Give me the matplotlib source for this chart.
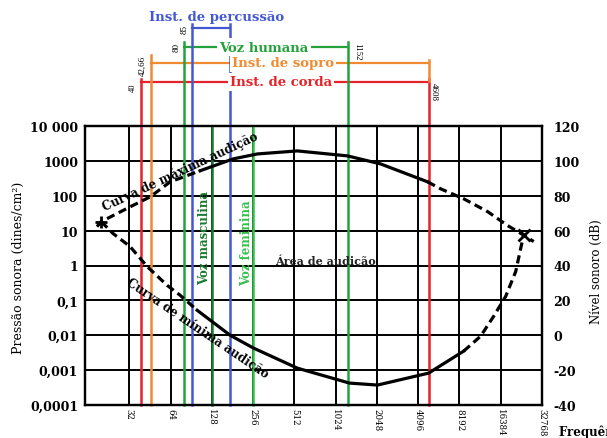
import matplotlib
matplotlib.use('Agg')
import matplotlib.pyplot as plt

plt.rcParams['font.family'] = ['DejaVu Serif', 'Liberation Serif']

# curves (frequency in Hz, pressure in dines/cm2)
max_dash1_f = [18.6, 19.9, 32.4, 45.4, 63.5, 105]
max_dash1_p = [13, 18, 48, 93, 250, 520]
max_solid_f = [105, 183, 275, 538, 1248, 2174, 4794]
max_solid_p = [520, 1140, 1580, 1930, 1390, 820, 251]
max_dash2_f = [4794, 5968, 8786, 13150, 18420, 23700, 28530]
max_dash2_p = [251, 158, 82, 35, 13.9, 7.7, 4.85]

min_dash1_f = [20, 24.4, 32.4, 43.1, 60.4, 75.2, 100]
min_dash1_p = [18, 8.2, 3.5, 0.94, 0.27, 0.14, 0.052]
min_solid_f = [100, 174, 257, 538, 1291, 2067, 4875, 8786]
min_solid_p = [0.052, 0.01, 0.0043, 0.00114, 0.000425, 0.000373, 0.00082, 0.0035]
min_dash2_f = [8786, 11690, 14550, 17800, 21070, 22920, 24100]
min_dash2_p = [0.0035, 0.0094, 0.035, 0.13, 0.67, 3.1, 7.7]

x_ticks = [32, 64, 128, 256, 512, 1024, 2048, 4096, 8192, 16384, 32768]
y_ticks = [1e-4, 1e-3, 1e-2, 1e-1, 1, 10, 100, 1000, 10000]
y_labels = ['0,0001', '0,001', '0,01', '0,1', '1', '10', '100', '1000', '10 000']
db_ticks = [-40, -20, 0, 20, 40, 60, 80, 100, 120]

# instrument ranges (Hz, where the lines sit in the picture)
corda = [39, 4875]
sopro = [46, 4875]
voz = [80.4, 1269]
percussao = [92, 174]
voz_masc = 128
voz_fem = 256

red = '#e3242b'
orange = '#ef8a32'
green = '#25a13c'
blue = '#4458d4'
dkgreen = '#1b7a30'
ltgreen = '#35c04c'

fig = plt.figure(figsize=(6.07, 4.39), dpi=100)
ax = fig.add_axes([85/607, 1-406/439, 457/607, 279/439])
ax.set_xscale('log', base=2)
ax.set_yscale('log')
ax.set_xlim(15.2, 32768)
ax.set_ylim(1e-4, 1e4)

# grid
for f in x_ticks:
    ax.axvline(f, color='black', lw=1.4, zorder=1)
for p in y_ticks:
    ax.axhline(p, color='black', lw=1.4, zorder=1)

xt = ax.get_xaxis_transform()

# colored range lines
def vline(f, y0, y1, c):
    ax.plot([f, f], [y0, y1], color=c, lw=1.8, transform=xt, clip_on=False, zorder=3)

def hline(f0, f1, y, c):
    ax.plot([f0, f1], [y, y], color=c, lw=1.6, transform=xt, clip_on=False, zorder=3)

vline(corda[0], 0, 1.168, red)
vline(corda[1], 0, 1.168, red)
hline(corda[0], corda[1], 1.158, red)

vline(sopro[0], 0, 1.254, orange)
vline(sopro[1], 1.160, 1.237, orange)
hline(sopro[0], sopro[1], 1.226, orange)

vline(voz[0], 0, 1.301, green)
vline(voz[1], 0, 1.301, green)
hline(voz[0], voz[1], 1.283, green)

vline(percussao[0], 0, 1.366, blue)
vline(percussao[1], 0, 1.366, blue)
hline(percussao[0], percussao[1], 1.351, blue)

vline(voz_masc, 0, 1, dkgreen)
vline(voz_fem, 0, 1, ltgreen)

# hearing curves
dash = (0, (2.6, 1.5))
ax.plot(max_dash1_f, max_dash1_p, color='black', lw=2.3, ls=dash, zorder=4)
ax.plot(max_solid_f, max_solid_p, color='black', lw=2.3, zorder=4)
ax.plot(max_dash2_f, max_dash2_p, color='black', lw=2.3, ls=dash, zorder=4)
ax.plot(min_dash1_f, min_dash1_p, color='black', lw=2.3, ls=dash, zorder=4)
ax.plot(min_solid_f, min_solid_p, color='black', lw=2.3, zorder=4)
ax.plot(min_dash2_f, min_dash2_p, color='black', lw=2.3, ls=dash, zorder=4)
ax.plot([min_dash1_f[0]], [min_dash1_p[0]], marker='+', ms=9, mew=2, color='black', zorder=5)
ax.plot([min_dash2_f[-1]], [min_dash2_p[-1]], marker='x', ms=8, mew=2, color='black', zorder=5)

# axes styling
for s in ax.spines.values():
    s.set_linewidth(1.6)
ax.set_xticks(x_ticks)
ax.set_xticklabels([str(v) for v in x_ticks], rotation=270, fontsize=6.2)
ax.xaxis.set_minor_locator(matplotlib.ticker.NullLocator())
ax.set_yticks(y_ticks)
ax.set_yticklabels(y_labels, fontsize=9, fontweight='bold')
ax.yaxis.set_minor_locator(matplotlib.ticker.NullLocator())
ax.tick_params(length=0, pad=5)
ax.tick_params(axis='x', pad=2.5)

ax2 = ax.twinx()
ax2.set_ylim(-40, 120)
ax2.set_yticks(db_ticks)
ax2.set_yticklabels([str(v) for v in db_ticks], fontsize=9, fontweight='bold')
ax2.tick_params(length=0, pad=8)
for s in ax2.spines.values():
    s.set_linewidth(1.6)

def ft(x, y, s, **kw):
    fig.text(x/607, 1-y/439, s, ha='center', va='center', **kw)

white = dict(facecolor='white', edgecolor='none', pad=1.5)
ft(217, 17, 'Inst. de percussão', color=blue, fontsize=9.5, fontweight='bold')
ft(264, 48, 'Voz humana', color=green, fontsize=9.5, fontweight='bold', bbox=white)
ft(283, 64, 'Inst. de sopro', color=orange, fontsize=9.5, fontweight='bold', bbox=white)
ft(281, 83, 'Inst. de corda', color=red, fontsize=9.5, fontweight='bold', bbox=white)

ft(133, 88, '40', rotation=90, fontsize=6, family='Liberation Serif')
ft(143, 66, '42,66', rotation=90, fontsize=6.5, family='Liberation Serif')
ft(177, 48, '80', rotation=90, fontsize=6.5, family='Liberation Serif')
ft(185, 30, '85', rotation=90, fontsize=6.5, family='Liberation Serif')
ft(357, 52, '1152', rotation=270, fontsize=6.5, family='Liberation Serif')
ft(434, 92, '4608', rotation=270, fontsize=6.5, family='Liberation Serif')

ft(180, 172, 'Curva de máxima audição', rotation=25, fontsize=8.5, fontweight='bold')
ft(198, 328, 'Curva de mínima audição', rotation=-34, fontsize=8.5, fontweight='bold')
ft(325, 261, 'Área de audição', fontsize=8, fontweight='bold', color='#222222')
ft(205, 238, 'Voz masculina', rotation=90, fontsize=8.5, fontweight='bold', color=dkgreen)
ft(247, 243, 'Voz feminina', rotation=90, fontsize=8.5, fontweight='bold', color=ltgreen)

ft(18, 268, 'Pressão sonora (dines/cm²)', rotation=90, fontsize=9)
ft(596, 272, 'Nível sonoro (dB)', rotation=90, fontsize=8.5)
fig.text(559/607, 1-432/439, 'Frequência (Hz)', ha='left', va='center', fontsize=8.5, fontweight='bold')

plt.savefig('out.png', dpi=100)
